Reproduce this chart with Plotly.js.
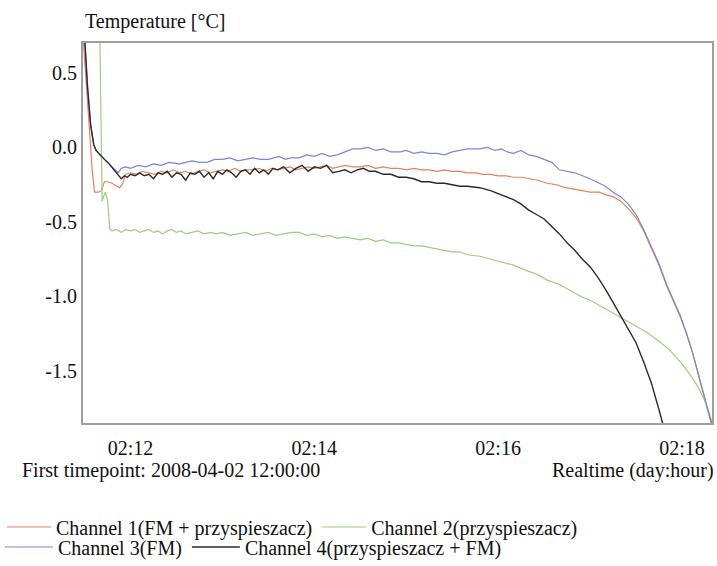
<!DOCTYPE html>
<html>
<head>
<meta charset="utf-8">
<script src="https://cdn.plot.ly/plotly-3.0.1.min.js"></script>
<style>html,body{margin:0;padding:0;background:#fff;}#chart{width:717px;height:566px;}</style>
</head>
<body>
<div id="chart"></div>
<script>
// Time values: minutes relative to 2008-04-02 12:00 (tick "02:12")
const ch1Names = "Channel 1(FM + przyspieszacz)";
const ch2Names = "Channel 2(przyspieszacz)";
const ch3Names = "Channel 3(FM)";
const ch4Names = "Channel 4(przyspieszacz + FM)";

const tickTimes = ["2008-04-02 12:00:00","2008-04-02 14:00:00","2008-04-02 16:00:00","2008-04-02 18:00:00"];
const tickLabels = ["02:12","02:14","02:16","02:18"];
const yTickVals = [-1.5,-1.0,-0.5,0.0,0.5];
const yTickLabels = ["-1.5","-1.0","-0.5","0.0","0.5"];

const ch1T = [-31,-29,-27,-25,-23.5,-21,-19,-17,-15,-12,
  -9,-7,-5,-3,0,4,8,12,16,20,
  24,28,32,36,40,44,48,52,56,60,
  64,68,72,76,80,84,88,92,96,100,
  104,108,112,116,120,124,128,132,136,140,
  145,150,155,160,165,170,175,180,185,190,
  195,200,205,210,215,220,225,230,235,240,
  245,250,255,260,266,272,278,284,290,295,
  300,306,311,315,320,325,330,335,340,345,
  350,355,359,363,367,371.5,375,378.5,382];
const ch1V = [0.75,0.45,0.10,-0.15,-0.30,-0.30,-0.29,-0.23,-0.23,-0.24,
  -0.26,-0.27,-0.24,-0.18,-0.17,-0.18,-0.16,-0.17,-0.18,-0.16,
  -0.17,-0.15,-0.17,-0.16,-0.18,-0.16,-0.15,-0.17,-0.16,-0.15,
  -0.16,-0.14,-0.16,-0.15,-0.15,-0.14,-0.16,-0.14,-0.15,-0.14,
  -0.13,-0.15,-0.14,-0.13,-0.14,-0.13,-0.12,-0.14,-0.13,-0.12,
  -0.13,-0.13,-0.12,-0.14,-0.13,-0.14,-0.14,-0.15,-0.14,-0.15,
  -0.15,-0.16,-0.15,-0.16,-0.16,-0.17,-0.17,-0.18,-0.18,-0.19,
  -0.19,-0.20,-0.20,-0.21,-0.22,-0.24,-0.25,-0.27,-0.28,-0.29,
  -0.30,-0.30,-0.32,-0.33,-0.36,-0.41,-0.47,-0.56,-0.67,-0.79,
  -0.93,-1.05,-1.14,-1.25,-1.38,-1.56,-1.70,-1.83,-1.95];

const ch2T = [-20,-18.5,-16.5,-15,-13.5,-12,-9,-6,-3,0,
  3,6,9,12,15,18,21,24,27,30,
  33,36,40,44,48,52,56,60,65,70,
  75,80,85,90,95,100,105,110,115,120,
  125,130,135,140,145,150,155,160,165,170,
  175,180,185,190,195,200,205,210,215,220,
  228,235,242,250,257,265,272,280,287,294,
  301,308,315,322,330,337,345,352,359,365,
  370,374,377,380,383];
const ch2V = [0.75,-0.36,-0.30,-0.35,-0.55,-0.56,-0.55,-0.57,-0.55,-0.56,
  -0.55,-0.57,-0.56,-0.55,-0.57,-0.56,-0.58,-0.56,-0.55,-0.57,
  -0.56,-0.58,-0.57,-0.56,-0.58,-0.57,-0.58,-0.57,-0.59,-0.58,
  -0.57,-0.59,-0.58,-0.57,-0.59,-0.58,-0.57,-0.57,-0.59,-0.58,
  -0.60,-0.59,-0.61,-0.60,-0.61,-0.62,-0.61,-0.63,-0.62,-0.64,
  -0.64,-0.65,-0.66,-0.66,-0.67,-0.68,-0.69,-0.70,-0.70,-0.72,
  -0.73,-0.75,-0.77,-0.79,-0.82,-0.85,-0.89,-0.92,-0.96,-1.00,
  -1.03,-1.07,-1.11,-1.15,-1.20,-1.24,-1.30,-1.36,-1.44,-1.52,
  -1.60,-1.68,-1.76,-1.86,-1.95];

const ch3T = [-30,-28,-26,-24,-22.5,-20,-17,-14,-11,-8,
  -6,-3,0,5,10,15,20,25,32,40,
  45,50,55,60,65,70,75,80,85,90,
  97,101,105,110,115,120,125,130,135,140,
  145,150,155,160,165,170,176,180,185,190,
  195,200,205,210,215,220,228,233,238,242,
  246,250,255,260,265,270,275,280,285,290,
  295,300,306,310,315,320,325,330,335,340,
  345,350,355,359,363,367,371.5,375,378.5,382];
const ch3V = [0.75,0.40,0.15,0.02,-0.02,-0.05,-0.08,-0.11,-0.14,-0.17,
  -0.14,-0.13,-0.14,-0.12,-0.13,-0.11,-0.12,-0.10,-0.11,-0.09,
  -0.10,-0.10,-0.08,-0.08,-0.07,-0.09,-0.08,-0.07,-0.08,-0.08,
  -0.06,-0.08,-0.07,-0.07,-0.05,-0.06,-0.04,-0.06,-0.05,-0.03,
  -0.01,-0.01,0.00,-0.02,-0.01,-0.03,-0.03,-0.02,-0.04,-0.03,
  -0.04,-0.04,-0.05,-0.03,-0.02,-0.01,-0.01,0.00,-0.02,-0.01,
  -0.03,-0.04,-0.02,-0.05,-0.06,-0.08,-0.10,-0.15,-0.16,-0.17,
  -0.19,-0.21,-0.24,-0.26,-0.30,-0.33,-0.38,-0.45,-0.55,-0.66,
  -0.78,-0.92,-1.04,-1.13,-1.25,-1.38,-1.55,-1.69,-1.82,-1.94];

const ch4T = [-30,-28,-26,-24,-22.5,-20,-17,-14,-11,-8,
  -6,-4,-2,0,3,6,9,12,15,18,
  21,24,27,30,33,36,39,42,45,48,
  51,54,57,60,63,66,69,72,75,78,
  81,84,87,90,93,96,100,104,108,112,
  116,120,124,128,132,136,140,144,148,152,
  156,160,165,170,175,180,185,190,195,200,
  205,210,215,220,228,235,240,245,250,255,
  260,265,270,275,280,285,290,295,300,305,
  310,315,320,325,330,335,340,345,350];
const ch4V = [0.75,0.40,0.15,0.02,-0.02,-0.05,-0.08,-0.11,-0.15,-0.19,
  -0.21,-0.19,-0.20,-0.18,-0.19,-0.17,-0.19,-0.18,-0.21,-0.17,
  -0.18,-0.16,-0.20,-0.17,-0.18,-0.22,-0.17,-0.18,-0.16,-0.20,
  -0.17,-0.21,-0.16,-0.18,-0.15,-0.17,-0.20,-0.16,-0.15,-0.18,
  -0.14,-0.17,-0.15,-0.18,-0.14,-0.15,-0.13,-0.17,-0.14,-0.12,
  -0.16,-0.13,-0.14,-0.12,-0.17,-0.16,-0.15,-0.17,-0.15,-0.14,
  -0.16,-0.16,-0.18,-0.18,-0.20,-0.20,-0.21,-0.23,-0.23,-0.24,
  -0.24,-0.25,-0.26,-0.26,-0.27,-0.29,-0.31,-0.33,-0.35,-0.38,
  -0.42,-0.45,-0.48,-0.53,-0.58,-0.64,-0.69,-0.75,-0.80,-0.87,
  -0.95,-1.04,-1.13,-1.22,-1.31,-1.44,-1.58,-1.76,-1.95];

function pad(n){return (n<10?'0':'')+n;}
function toDate(m){
  const base = Date.UTC(2008,3,2,12,0,0);
  const d = new Date(base + Math.round(m*60000));
  return d.getUTCFullYear()+'-'+pad(d.getUTCMonth()+1)+'-'+pad(d.getUTCDate())+' '+
    pad(d.getUTCHours())+':'+pad(d.getUTCMinutes())+':'+pad(d.getUTCSeconds());
}

const FONT = 'Liberation Serif, Times New Roman, serif';

const traces = [
  {x: ch1T.map(toDate), y: ch1V, name: ch1Names, type:'scatter', mode:'lines',
   line:{color:'#e8805f', width:1.2}, legend:'legend'},
  {x: ch2T.map(toDate), y: ch2V, name: ch2Names, type:'scatter', mode:'lines',
   line:{color:'#9ccf7c', width:1.2}, legend:'legend'},
  {x: ch3T.map(toDate), y: ch3V, name: ch3Names, type:'scatter', mode:'lines',
   line:{color:'#7a86d6', width:1.2}, legend:'legend2'},
  {x: ch4T.map(toDate), y: ch4V, name: ch4Names, type:'scatter', mode:'lines',
   line:{color:'#2a2a2a', width:1.4}, legend:'legend2'}
];

const legendCommon = {
  orientation:'h', xref:'paper', yref:'paper', xanchor:'left', yanchor:'middle',
  font:{family:FONT, size:20, color:'#111'}, bgcolor:'rgba(0,0,0,0)',
  tracegroupgap:0, borderwidth:0
};

const layout = {
  width:717, height:566,
  margin:{l:83, r:5, t:43, b:143, autoexpand:false},
  paper_bgcolor:'#fff', plot_bgcolor:'#fff',
  font:{family:FONT, size:20, color:'#111'},
  showlegend:true,
  xaxis:{
    type:'date',
    range:['2008-04-02 11:29:00','2008-04-02 18:19:36'],
    tickvals: tickTimes, ticktext: tickLabels,
    showgrid:false, zeroline:false,
    showline:true, mirror:true, linecolor:'#a0a0a0', linewidth:2,
    ticks:'', ticklabelstandoff:6,
    tickfont:{family:FONT, size:20, color:'#111'}
  },
  yaxis:{
    range:[-1.849, 0.701],
    tickvals: yTickVals, ticktext: yTickLabels,
    showgrid:false, zeroline:false,
    showline:true, mirror:true, linecolor:'#a0a0a0', linewidth:2,
    ticks:'',
    tickfont:{family:FONT, size:20, color:'#111'}
  },
  legend: Object.assign({}, legendCommon, {x:(2-83)/629, y:(423-527)/380, itemwidth:44}),
  legend2: Object.assign({}, legendCommon, {x:(0-83)/629, y:(423-547)/380, itemwidth:48}),
  annotations:[
    {text:'Temperature [°C]', xref:'paper', yref:'paper', x:0, y:1, xanchor:'left', yanchor:'bottom',
     xshift:0, yshift:8, showarrow:false, font:{family:FONT, size:20, color:'#111'}},
    {text:'First timepoint: 2008-04-02 12:00:00', xref:'paper', yref:'paper',
     x:(20-83)/629, y:(423-470)/380, xanchor:'left', yanchor:'middle', showarrow:false,
     font:{family:FONT, size:20, color:'#111'}},
    {text:'Realtime (day:hour)', xref:'paper', yref:'paper',
     x:(716-83)/629, y:(423-470)/380, xanchor:'right', yanchor:'middle', showarrow:false,
     font:{family:FONT, size:20, color:'#111'}}
  ]
};

Plotly.newPlot('chart', traces, layout, {staticPlot:true, displayModeBar:false});
</script>
</body>
</html>
